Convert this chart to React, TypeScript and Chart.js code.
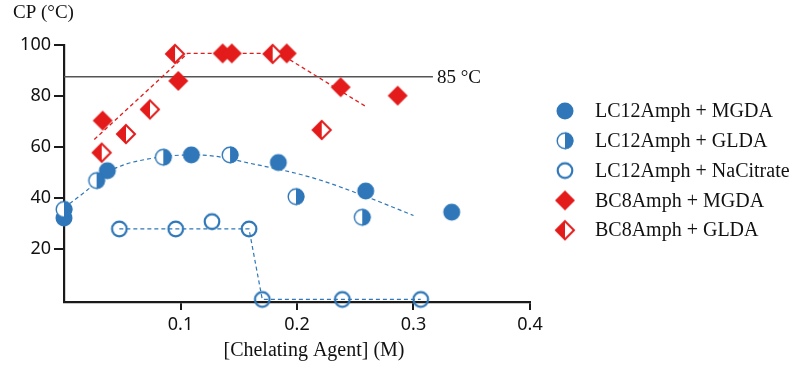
import React, { useEffect, useRef } from "react";
import { Chart, registerables } from "chart.js";
Chart.register(...registerables);

const BLUE = "#2f77b8";
const RED = "#e31b1b";

const xTicks = [0.1, 0.2, 0.3, 0.4];
const yTicks = [20, 40, 60, 80, 100];

const lcMgda = [
  { x: 0, y: 32 }, { x: 0.0372, y: 50.6 }, { x: 0.1093, y: 56.8 },
  { x: 0.184, y: 53.8 }, { x: 0.259, y: 42.6 }, { x: 0.3328, y: 34.3 },
];
const lcGlda = [
  { x: 0, y: 35.4 }, { x: 0.028, y: 46.7 }, { x: 0.0852, y: 55.9 },
  { x: 0.1425, y: 56.8 }, { x: 0.1991, y: 40.4 }, { x: 0.256, y: 32.3 },
];
const lcCitrate = [
  { x: 0.0475, y: 27.7 }, { x: 0.0959, y: 27.7 }, { x: 0.127, y: 30.6 },
  { x: 0.1588, y: 27.7 }, { x: 0.1702, y: 0 }, { x: 0.2389, y: 0 }, { x: 0.3062, y: 0 },
];
const bcMgda = [
  { x: 0.0332, y: 70.3 }, { x: 0.0981, y: 85.9 }, { x: 0.1362, y: 96.7 },
  { x: 0.144, y: 96.7 }, { x: 0.1912, y: 96.7 }, { x: 0.2375, y: 83.4 }, { x: 0.2864, y: 80.1 },
];
const bcGlda = [
  { x: 0.0324, y: 57.7 }, { x: 0.0532, y: 65.0 }, { x: 0.0738, y: 74.7 },
  { x: 0.0953, y: 96.5 }, { x: 0.1791, y: 96.5 }, { x: 0.2212, y: 66.6 },
];

const redTrend = [
  { x: 0.026, y: 62.9 }, { x: 0.106, y: 96.7 }, { x: 0.185, y: 96.7 }, { x: 0.2584, y: 76.0 },
];
const blueTrend = [
  { x: 0, y: 36 }, { x: 0.02, y: 43 }, { x: 0.04, y: 50.6 }, { x: 0.08, y: 55.8 },
  { x: 0.115, y: 56.8 }, { x: 0.165, y: 53 }, { x: 0.215, y: 47.6 }, { x: 0.26, y: 40.3 },
  { x: 0.30, y: 33 },
];
const citrateTrend = [
  { x: 0.0475, y: 27.7 }, { x: 0.1588, y: 27.7 }, { x: 0.1702, y: 0 }, { x: 0.3062, y: 0 },
];
const refLine = [{ x: 0, y: 87.5 }, { x: 0.3167, y: 87.5 }];
const refLabel = "85 °C";

const legendLabels = [
  "LC12Amph + MGDA",
  "LC12Amph + GLDA",
  "LC12Amph + NaCitrate",
  "BC8Amph + MGDA",
  "BC8Amph + GLDA",
];

function mk(size: number, draw: (c: CanvasRenderingContext2D, m: number) => void) {
  const cv = document.createElement("canvas");
  cv.width = size;
  cv.height = size;
  const c = cv.getContext("2d")!;
  draw(c, size / 2);
  return cv;
}

function makeMarkers() {
  const filledCircle = mk(20, (c, m) => {
    c.fillStyle = BLUE;
    c.beginPath(); c.arc(m, m, 8.5, 0, Math.PI * 2); c.fill();
  });
  const halfCircle = mk(20, (c, m) => {
    c.fillStyle = "#fff";
    c.beginPath(); c.arc(m, m, 7.8, 0, Math.PI * 2); c.fill();
    c.fillStyle = BLUE;
    c.beginPath(); c.arc(m, m, 8.5, -Math.PI / 2, Math.PI / 2); c.closePath(); c.fill();
    c.strokeStyle = BLUE; c.lineWidth = 1.4;
    c.beginPath(); c.arc(m, m, 7.8, 0, Math.PI * 2); c.stroke();
  });
  const openCircle = mk(20, (c, m) => {
    c.strokeStyle = BLUE; c.lineWidth = 2.2;
    c.beginPath(); c.arc(m, m, 7.3, 0, Math.PI * 2); c.stroke();
  });
  const filledDiamond = mk(24, (c, m) => {
    const r = 10;
    c.fillStyle = RED;
    c.beginPath(); c.moveTo(m, m - r); c.lineTo(m + r, m); c.lineTo(m, m + r); c.lineTo(m - r, m); c.closePath(); c.fill();
  });
  const halfDiamond = mk(24, (c, m) => {
    const r = 9;
    c.fillStyle = "#fff";
    c.beginPath(); c.moveTo(m, m - r); c.lineTo(m + r, m); c.lineTo(m, m + r); c.lineTo(m - r, m); c.closePath(); c.fill();
    c.fillStyle = RED;
    c.beginPath(); c.moveTo(m, m - r); c.lineTo(m, m + r); c.lineTo(m - r, m); c.closePath(); c.fill();
    c.strokeStyle = RED; c.lineWidth = 2; c.lineJoin = "miter";
    c.beginPath(); c.moveTo(m, m - r); c.lineTo(m + r, m); c.lineTo(m, m + r); c.lineTo(m - r, m); c.closePath(); c.stroke();
  });
  return [filledCircle, halfCircle, openCircle, filledDiamond, halfDiamond];
}

export default function App() {
  const ref = useRef<HTMLCanvasElement>(null);
  useEffect(() => {
    const markers = makeMarkers();
    const serif = '"Liberation Serif", "Times New Roman", serif';
    const textPlugin = {
      id: "texts",
      afterDraw(chart: any) {
        const ctx = chart.ctx;
        const xs = chart.scales.x;
        const ys = chart.scales.y;
        ctx.save();
        ctx.fillStyle = "#111";
        ctx.textBaseline = "middle";
        ctx.font = `19px ${serif}`;
        ctx.textAlign = "left";
        ctx.fillText("CP (°C)", 13, 13);
        ctx.font = `20px ${serif}`;
        ctx.textAlign = "center";
        ctx.fillText("[Chelating Agent] (M)", 314, 351);
        ctx.textAlign = "left";
        ctx.font = `19px ${serif}`;
        ctx.fillText(refLabel, xs.getPixelForValue(refLine[1].x) + 4, ys.getPixelForValue(refLine[1].y) + 1);
        ctx.font = `20px ${serif}`;
        legendLabels.forEach((lab, i) => {
          const y = 111 + i * 29.8;
          const mkr = markers[i];
          ctx.drawImage(mkr, 565 - mkr.width / 2, y - mkr.height / 2);
          ctx.fillText(lab, 595, y + 1);
        });
        ctx.restore();
      },
    };
    const pt = (data: any[], img: any) => ({
      data,
      showLine: false,
      pointStyle: img,
      pointRadius: 9,
      pointHoverRadius: 9,
      clip: false,
      order: 1,
    });
    const line = (data: any[], color: string, dash: number[], width: number, tension = 0) => ({
      data,
      showLine: true,
      borderColor: color,
      borderWidth: width,
      borderDash: dash,
      pointRadius: 0,
      tension,
      cubicInterpolationMode: tension ? "monotone" : "default",
      clip: false,
      order: 2,
    });
    const chart = new Chart(ref.current!, {
      type: "scatter",
      data: {
        datasets: [
          pt(lcCitrate, markers[2]),
          pt(bcGlda, markers[4]),
          pt(bcMgda, markers[3]),
          pt(lcGlda, markers[1]),
          pt(lcMgda, markers[0]),
          line(redTrend, RED, [4, 3], 1.3),
          line(blueTrend, BLUE, [4, 3], 1.2, 0.4),
          line(citrateTrend, BLUE, [4, 3], 1.2),
          line(refLine, "#555", [], 1.6),
        ] as any,
      },
      options: {
        responsive: false,
        animation: false,
        devicePixelRatio: 1,
        events: [],
        layout: { autoPadding: false, padding: { top: 45, right: 265, left: 0, bottom: 0 } },
        plugins: { legend: { display: false }, tooltip: { enabled: false }, title: { display: false } },
        scales: {
          x: {
            type: "linear",
            min: 0,
            max: 0.4,
            afterFit: (s: any) => { s.height = 65; },
            afterBuildTicks: (s: any) => { s.ticks = xTicks.map((v) => ({ value: v })); },
            grid: { drawOnChartArea: false, drawTicks: true, tickLength: 8, color: "#1a1a1a", lineWidth: 2 },
            border: { display: true, color: "#1a1a1a", width: 2.2 },
            ticks: {
              color: "#111",
              padding: 4,
              maxRotation: 0,
              font: { family: '"Noto Sans", sans-serif', size: 18 },
              callback: (v: any) => String(v),
            },
          },
          y: {
            type: "linear",
            min: -1,
            max: 100,
            afterFit: (s: any) => { s.width = 64; },
            afterBuildTicks: (s: any) => { s.ticks = yTicks.map((v) => ({ value: v })); },
            grid: { drawOnChartArea: false, drawTicks: true, tickLength: 10, color: "#1a1a1a", lineWidth: 2 },
            border: { display: true, color: "#1a1a1a", width: 2.2 },
            ticks: {
              color: "#111",
              padding: 3,
              font: { family: '"Noto Sans", sans-serif', size: 18 },
              callback: (v: any) => String(v),
            },
          },
        },
      },
      plugins: [textPlugin],
    });
    return () => chart.destroy();
  }, []);
  return (
    <div style={{ position: "fixed", left: 0, top: 0, width: 795, height: 367, background: "#fff" }}>
      <canvas ref={ref} width={795} height={367} style={{ display: "block" }} />
    </div>
  );
}
